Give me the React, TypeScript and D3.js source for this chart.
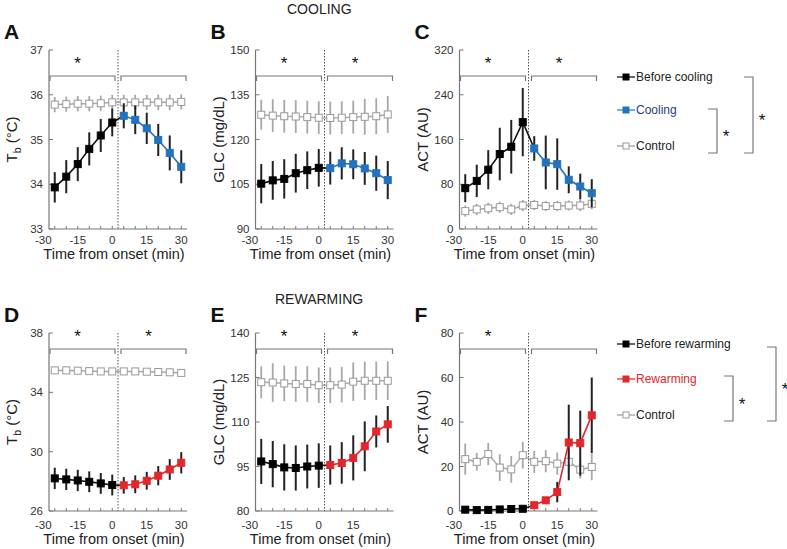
import React from "react";
import * as d3 from "d3";

// ---------- data ----------
const beforeTimes = [-25, -20, -15, -10, -5, 0];
const duringTimes = [5, 10, 15, 20, 25, 30];
const allTimes = [...beforeTimes, ...duringTimes];
const onsetTime = 2.5;

// Panel A – Tb cooling
const coolTbBefore = [33.93, 34.17, 34.45, 34.79, 35.09, 35.38];
const coolTbBeforeErr = [0.34, 0.37, 0.38, 0.37, 0.37, 0.31];
const coolTbDuring = [35.53, 35.44, 35.25, 34.99, 34.7, 34.39];
const coolTbDuringErr = [0.28, 0.32, 0.35, 0.36, 0.39, 0.37];
const coolTbControl = [35.78, 35.79, 35.8, 35.8, 35.81, 35.83, 35.83, 35.83, 35.83, 35.83, 35.83, 35.84];
const coolTbControlErr = [0.17, 0.17, 0.17, 0.17, 0.17, 0.17, 0.17, 0.17, 0.17, 0.17, 0.17, 0.17];

// Panel B – GLC cooling
const coolGlcBefore = [105.2, 106.3, 106.8, 108.7, 109.7, 110.5];
const coolGlcBeforeErr = [6.6, 6.5, 6.6, 6.5, 6.3, 6.3];
const coolGlcDuring = [110.4, 112.0, 111.7, 110.3, 108.7, 106.4];
const coolGlcDuringErr = [5.5, 5.4, 5.0, 5.5, 5.9, 6.4];
const coolGlcControl = [128.3, 128.0, 127.8, 127.7, 127.5, 127.3, 127.2, 127.3, 127.5, 127.6, 127.8, 128.4];
const coolGlcControlErr = [5, 5.5, 5.5, 5.5, 5.5, 5.5, 5.5, 5.5, 5.5, 6, 6, 6.2];

// Panel C – ACT cooling
const coolActBefore = [73, 86, 106, 134, 147, 191];
const coolActBeforeErr = [25, 29, 35, 47, 48, 61];
const coolActDuring = [144, 119, 116, 88, 76, 64];
const coolActDuringErr = [22, 48, 46, 24, 23, 25];
const coolActControl = [32, 35, 37, 39, 35, 42, 43, 41, 41, 42, 42, 45];
const coolActControlErr = [10, 10, 10, 10, 10, 10, 9, 9, 9, 9, 10, 10];

// Panel D – Tb rewarming
const rewTbBefore = [28.2, 28.13, 28.06, 27.97, 27.86, 27.75];
const rewTbBeforeErr = [0.72, 0.72, 0.72, 0.7, 0.7, 0.7];
const rewTbDuring = [27.73, 27.8, 28.04, 28.38, 28.8, 29.25];
const rewTbDuringErr = [0.56, 0.6, 0.6, 0.65, 0.7, 0.72];
const rewTbControl = [35.48, 35.48, 35.46, 35.43, 35.41, 35.41, 35.41, 35.41, 35.39, 35.37, 35.35, 35.31];
const rewTbControlErr = [0.15, 0.15, 0.15, 0.15, 0.15, 0.15, 0.15, 0.15, 0.15, 0.15, 0.15, 0.15];

// Panel E – GLC rewarming
const rewGlcBefore = [96.7, 95.8, 94.7, 94.5, 95.0, 95.3];
const rewGlcBeforeErr = [7.6, 7.8, 7.8, 7.6, 7.4, 7.5];
const rewGlcDuring = [95.5, 96.2, 97.9, 101.8, 106.8, 109.2];
const rewGlcDuringErr = [6.6, 7.0, 7.6, 8.4, 5.4, 6.2];
const rewGlcControl = [123.4, 123.3, 123.0, 122.8, 122.8, 122.4, 122.4, 122.6, 123.6, 123.9, 123.9, 123.9];
const rewGlcControlErr = [5.4, 6.5, 6, 6, 6, 6, 6, 6, 6.5, 6.5, 6.5, 6.5];

// Panel F – ACT rewarming
const rewActBefore = [0.6, 0.4, 0.5, 0.7, 0.9, 1.0];
const rewActBeforeErr = [0.3, 0.3, 0.3, 0.3, 0.3, 0.3];
const rewActDuring = [2.6, 4.8, 8.5, 30.8, 30.5, 43];
const rewActDuringErr = [1, 1.5, 4.6, 17, 14.6, 17];
const rewActControl = [23.3, 22.1, 25.6, 19.5, 18.7, 25.1, 22.1, 22.4, 21.3, 22.1, 18.6, 19.8];
const rewActControlErr = [7, 4, 5, 6, 6, 6, 5, 5, 5, 5, 4, 6];

// ticks
const xTicksFull = [-30, -15, 0, 15, 30];
const xTicksE = [-30, -15, 0, 15];
const xMinorTicks = [-25, -20, -15, -10, -5, 0, 5, 10, 15, 20, 25, 30];
const tbCoolTicks = [33, 34, 35, 36, 37];
const glcCoolTicks = [90, 105, 120, 135, 150];
const actCoolTicks = [0, 80, 160, 240, 320];
const tbRewTicks = [26, 30, 34, 38];
const glcRewTicks = [80, 95, 110, 125, 140];
const actRewTicks = [0, 20, 40, 60, 80];

const coolLegend = ["Before cooling", "Cooling", "Control"];
const rewLegend = ["Before rewarming", "Rewarming", "Control"];

// ---------- styling ----------
const FONT = "'Liberation Sans', Arial, Helvetica, sans-serif";
const BLUE = "#2272bd";
const RED = "#e2262b";
const GRAY = "#a8a8a8";
const AXIS = "#777";
const TEXT = "#222";

type Row = { top: number; bottom: number; tickDy: number; labelDy: number; bracketDy: number };
const ROW_TOP: Row = { top: 50, bottom: 229, tickDy: 15, labelDy: 30, bracketDy: 26 };
const ROW_BOT: Row = { top: 333, bottom: 511, tickDy: 18, labelDy: 33, bracketDy: 16 };

const PANEL_W = 138;

type YLabel = { main: string; sub?: string; rest?: string };

interface PanelProps {
  x0: number;
  row: Row;
  letter: string;
  ylabel: YLabel;
  yTicks: number[];
  xTicks: number[];
  before: number[];
  beforeErr: number[];
  during: number[];
  duringErr: number[];
  control: number[];
  controlErr: number[];
  color: string;
  stars: [boolean, boolean];
}

function Square({ x, y, fill, stroke }: { x: number; y: number; fill: string; stroke: string }) {
  const s = 7;
  return <rect x={x - s / 2} y={y - s / 2} width={s} height={s} fill={fill} stroke={stroke} strokeWidth={1} />;
}

function Panel(p: PanelProps) {
  const { row } = p;
  const x = d3.scaleLinear().domain([-27.5, 32.5]).range([p.x0, p.x0 + PANEL_W]);
  const y = d3
    .scaleLinear()
    .domain([p.yTicks[0], p.yTicks[p.yTicks.length - 1]])
    .range([row.bottom, row.top]);
  const line = d3
    .line<[number, number]>()
    .x((d) => x(d[0]))
    .y((d) => y(d[1]));

  const ctrlPts: [number, number][] = allTimes.map((t, i) => [t, p.control[i]]);
  const befPts: [number, number][] = beforeTimes.map((t, i) => [t, p.before[i]]);
  const durPts: [number, number][] = duringTimes.map((t, i) => [t, p.during[i]]);
  const bridge: [number, number][] = [befPts[befPts.length - 1], durPts[0]];

  const xEnd = p.x0 + PANEL_W;
  const xOn = x(onsetTime);
  const by = row.top + row.bracketDy;
  const brackets = [
    [p.x0 + 1, xOn - 3],
    [xOn + 3, xEnd - 1],
  ];
  const midY = (row.top + row.bottom) / 2;

  return (
    <g>
      <text x={p.x0 - 45} y={row.top - 11} fontSize={21} fontWeight="bold" fill="#111" fontFamily={FONT}>
        {p.letter}
      </text>
      <text
        transform={`translate(${p.x0 - 32},${midY}) rotate(-90)`}
        textAnchor="middle"
        fontSize={15}
        fill={TEXT}
        fontFamily={FONT}
      >
        {p.ylabel.main}
        {p.ylabel.sub && (
          <tspan dy={4} fontSize={10.5}>
            {p.ylabel.sub}
          </tspan>
        )}
        {p.ylabel.rest && <tspan dy={p.ylabel.sub ? -4 : 0}>{p.ylabel.rest}</tspan>}
      </text>
      <line x1={p.x0} x2={p.x0} y1={row.top} y2={row.bottom} stroke={AXIS} strokeWidth={1.2} />
      <line x1={p.x0} x2={xEnd} y1={row.bottom} y2={row.bottom} stroke={AXIS} strokeWidth={1.2} />
      {p.yTicks.map((t) => (
        <g key={`yt${t}`}>
          <line x1={p.x0} x2={p.x0 + 4} y1={y(t)} y2={y(t)} stroke={AXIS} strokeWidth={1} />
          <text x={p.x0 - 6} y={y(t)} dy="0.35em" textAnchor="end" fontSize={11.5} fill="#333" fontFamily={FONT}>
            {t}
          </text>
        </g>
      ))}
      {xMinorTicks.map((t) => (
        <line key={`xm${t}`} x1={x(t)} x2={x(t)} y1={row.bottom} y2={row.bottom - 3} stroke={AXIS} strokeWidth={1} />
      ))}
      {p.xTicks.map((t) => (
        <text
          key={`xt${t}`}
          x={x(t)}
          y={row.bottom + row.tickDy}
          textAnchor="middle"
          fontSize={11.5}
          fill="#333"
          fontFamily={FONT}
        >
          {t}
        </text>
      ))}
      <text x={p.x0 + 65} y={row.bottom + row.labelDy} textAnchor="middle" fontSize={14.5} fill={TEXT} fontFamily={FONT}>
        Time from onset (min)
      </text>
      <line x1={xOn} x2={xOn} y1={row.top} y2={row.bottom} stroke="#555" strokeWidth={1} strokeDasharray="1.5,1.5" />
      {brackets.map(([a, b], i) => (
        <g key={`br${i}`}>
          <path d={`M${a},${by + 5}V${by}H${b}V${by + 5}`} fill="none" stroke={AXIS} strokeWidth={1.2} />
          {p.stars[i] && (
            <text x={(a + b) / 2 - 5} y={by - 7} textAnchor="middle" fontSize={17} fill="#111" fontFamily={FONT}>
              *
            </text>
          )}
        </g>
      ))}
      {ctrlPts.map((d, i) => (
        <line
          key={`ce${i}`}
          x1={x(d[0])}
          x2={x(d[0])}
          y1={y(d[1] - p.controlErr[i])}
          y2={y(d[1] + p.controlErr[i])}
          stroke={GRAY}
          strokeWidth={1.8}
        />
      ))}
      <path d={line(ctrlPts) || ""} fill="none" stroke={GRAY} strokeWidth={1.5} />
      {ctrlPts.map((d, i) => (
        <Square key={`cm${i}`} x={x(d[0])} y={y(d[1])} fill="#fff" stroke="#999" />
      ))}
      {befPts.map((d, i) => (
        <line
          key={`be${i}`}
          x1={x(d[0])}
          x2={x(d[0])}
          y1={y(d[1] - p.beforeErr[i])}
          y2={y(d[1] + p.beforeErr[i])}
          stroke="#222"
          strokeWidth={2}
        />
      ))}
      {durPts.map((d, i) => (
        <line
          key={`de${i}`}
          x1={x(d[0])}
          x2={x(d[0])}
          y1={y(d[1] - p.duringErr[i])}
          y2={y(d[1] + p.duringErr[i])}
          stroke="#222"
          strokeWidth={2}
        />
      ))}
      <path d={line(befPts) || ""} fill="none" stroke="#111" strokeWidth={1.6} />
      <path d={line(bridge) || ""} fill="none" stroke="#111" strokeWidth={1.6} />
      <path d={line(durPts) || ""} fill="none" stroke={p.color} strokeWidth={1.6} />
      {befPts.map((d, i) => (
        <Square key={`bm${i}`} x={x(d[0])} y={y(d[1])} fill="#000" stroke="#000" />
      ))}
      {durPts.map((d, i) => (
        <Square key={`dm${i}`} x={x(d[0])} y={y(d[1])} fill={p.color} stroke={p.color} />
      ))}
    </g>
  );
}

function Legend({
  x0,
  rows,
  labels,
  color,
  textColor,
  inner,
  outer,
}: {
  x0: number;
  rows: number[];
  labels: string[];
  color: string;
  textColor: string;
  inner: { x: number; y1: number; y2: number };
  outer: { x: number; y1: number; y2: number };
}) {
  const fills = ["#000", color, "#fff"];
  const strokes = ["#000", color, "#999"];
  const lineCols = ["#000", color, "#999"];
  const txtCols = [TEXT, textColor, TEXT];
  return (
    <g>
      {labels.map((lab, i) => (
        <g key={lab}>
          <line x1={x0} x2={x0 + 18} y1={rows[i]} y2={rows[i]} stroke={lineCols[i]} strokeWidth={1.2} />
          <rect x={x0 + 6} y={rows[i] - 3} width={6} height={6} fill={fills[i]} stroke={strokes[i]} strokeWidth={1} />
          <text x={x0 + 19} y={rows[i]} dy="0.35em" fontSize={12} fill={txtCols[i]} fontFamily={FONT}>
            {lab}
          </text>
        </g>
      ))}
      {[inner, outer].map((b, i) => (
        <g key={`lb${i}`}>
          <path d={`M${b.x - 9},${b.y1}H${b.x}V${b.y2}H${b.x - 9}`} fill="none" stroke={AXIS} strokeWidth={1.2} />
          <text x={b.x + 9} y={(b.y1 + b.y2) / 2 + 11} textAnchor="middle" fontSize={17} fill="#111" fontFamily={FONT}>
            *
          </text>
        </g>
      ))}
    </g>
  );
}

export default function App() {
  const xs = [49, 255.5, 459.5];
  return (
    <svg width={787} height={549} style={{ position: "absolute", left: 0, top: 0, background: "#fff" }} fontFamily={FONT}>
      <rect width={787} height={549} fill="#fff" />
      <text x={287} y={14} fontSize={14} fill={TEXT} fontFamily={FONT}>
        COOLING
      </text>
      <text x={275} y={304} fontSize={14} fill={TEXT} fontFamily={FONT}>
        REWARMING
      </text>

      <Panel x0={xs[0]} row={ROW_TOP} letter="A" ylabel={{ main: "T", sub: "b", rest: " (°C)" }} yTicks={tbCoolTicks} xTicks={xTicksFull}
        before={coolTbBefore} beforeErr={coolTbBeforeErr} during={coolTbDuring} duringErr={coolTbDuringErr}
        control={coolTbControl} controlErr={coolTbControlErr} color={BLUE} stars={[true, false]} />
      <Panel x0={xs[1]} row={ROW_TOP} letter="B" ylabel={{ main: "GLC (mg/dL)" }} yTicks={glcCoolTicks} xTicks={xTicksFull}
        before={coolGlcBefore} beforeErr={coolGlcBeforeErr} during={coolGlcDuring} duringErr={coolGlcDuringErr}
        control={coolGlcControl} controlErr={coolGlcControlErr} color={BLUE} stars={[true, true]} />
      <Panel x0={xs[2]} row={ROW_TOP} letter="C" ylabel={{ main: "ACT (AU)" }} yTicks={actCoolTicks} xTicks={xTicksFull}
        before={coolActBefore} beforeErr={coolActBeforeErr} during={coolActDuring} duringErr={coolActDuringErr}
        control={coolActControl} controlErr={coolActControlErr} color={BLUE} stars={[true, true]} />
      <Panel x0={xs[0]} row={ROW_BOT} letter="D" ylabel={{ main: "T", sub: "b", rest: " (°C)" }} yTicks={tbRewTicks} xTicks={xTicksFull}
        before={rewTbBefore} beforeErr={rewTbBeforeErr} during={rewTbDuring} duringErr={rewTbDuringErr}
        control={rewTbControl} controlErr={rewTbControlErr} color={RED} stars={[true, true]} />
      <Panel x0={xs[1]} row={ROW_BOT} letter="E" ylabel={{ main: "GLC (mg/dL)" }} yTicks={glcRewTicks} xTicks={xTicksE}
        before={rewGlcBefore} beforeErr={rewGlcBeforeErr} during={rewGlcDuring} duringErr={rewGlcDuringErr}
        control={rewGlcControl} controlErr={rewGlcControlErr} color={RED} stars={[true, true]} />
      <Panel x0={xs[2]} row={ROW_BOT} letter="F" ylabel={{ main: "ACT (AU)" }} yTicks={actRewTicks} xTicks={xTicksFull}
        before={rewActBefore} beforeErr={rewActBeforeErr} during={rewActDuring} duringErr={rewActDuringErr}
        control={rewActControl} controlErr={rewActControlErr} color={RED} stars={[true, false]} />

      <Legend x0={617} rows={[77, 110, 146]} labels={coolLegend} color={BLUE} textColor="#2b3b82"
        inner={{ x: 717, y1: 109, y2: 153 }} outer={{ x: 753, y1: 77, y2: 153 }} />
      <Legend x0={617} rows={[344, 379, 415]} labels={rewLegend} color={RED} textColor={RED}
        inner={{ x: 733, y1: 376, y2: 421 }} outer={{ x: 776, y1: 347, y2: 421 }} />
    </svg>
  );
}
